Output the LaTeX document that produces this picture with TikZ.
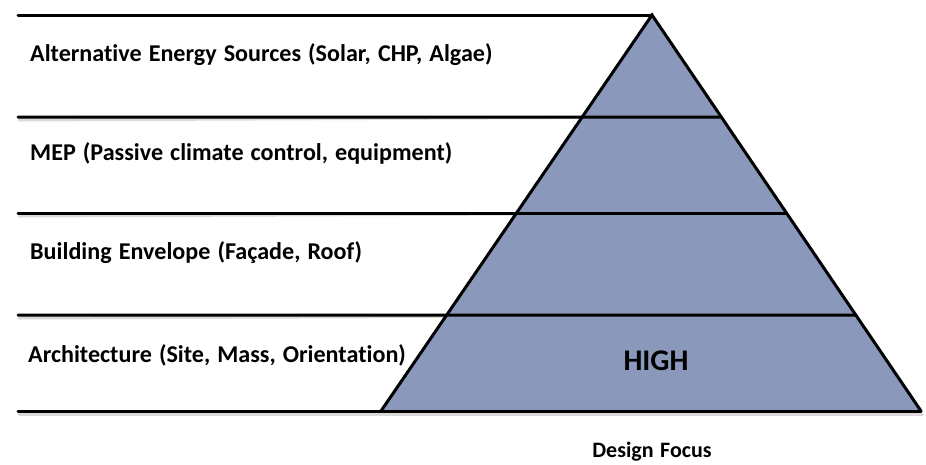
\documentclass[tikz,border=0pt]{standalone}
\usepackage{fontspec}
\setmainfont{Carlito}[Ligatures=NoCommon, WordSpace=1.3]
\usetikzlibrary{calc}
\definecolor{pyrfill}{RGB}{138,152,188}
\begin{document}
\begin{tikzpicture}[x=1pt,y=-1pt,line cap=round]
        \tikzset{
            level/.style={line width=3pt},
            lbl/.style={anchor=base west, inner sep=0pt, font=\fontsize{24.1}{28}\selectfont\bfseries},
            shade/.style={line width=3pt, black!15}
        }
        \useasboundingbox (0,0) rectangle (926,464);

        % pyramid corners
        \coordinate (apex) at (652,15);
        \coordinate (bl) at (381,411);
        \coordinate (br) at (921,411);

        % soft shadow under the lines
        \draw[shade] (19,414) -- (922,414);
        \foreach \y in {117,213,315}
            \draw[shade] (19,\y+3) -- ($(apex)!{(\y-15)/396}!(br)$);

        \fill[pyrfill] (apex) -- (bl) -- (br) -- cycle;

        % layer lines running out from the right edge
        \draw[level] (18,15) -- (apex);
        \foreach \y/\nm in {117/one,213/two,315/three}
            \draw[level] (18,\y) -- ($(apex)!{(\y-15)/396}!(br)$) coordinate (\nm);
        \draw[level] (18,411) -- (br);
        \draw[level, line join=miter] (bl) -- (apex) -- (br);

        \node[lbl] (alt) at (30,61) {Alternative Energy Sources (Solar, CHP, Algae)};
        \node[lbl] (mep) at (30,160.5) {MEP (Passive climate control, equipment)};
        \node[lbl] (env) at (30,259) {Building Envelope (Façade, Roof)};
        \node[lbl] (arch) at (28,362) {Architecture (Site, Mass, Orientation)};

        \node[anchor=base, inner sep=0pt, font=\fontsize{30}{34}\selectfont\bfseries] (high) at (656,370.5) {HIGH};
        \node[anchor=base, inner sep=0pt, font=\fontsize{22}{26}\selectfont\bfseries] (focus) at (652,457.5) {Design Focus};
    \end{tikzpicture}
\end{document}
